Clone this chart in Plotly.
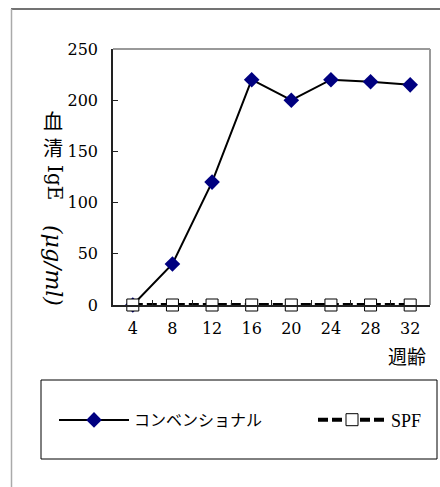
import plotly.graph_objects as go

weeks = ["4", "8", "12", "16", "20", "24", "28", "32"]
conventional = [0, 40, 120, 220, 200, 220, 218, 215]
spf = [0, 0, 0, 0, 0, 0, 0, 0]
y_ticks = [0, 50, 100, 150, 200, 250]

L, R, T, B = 113, 10, 49, 182
W, H = 440, 487
pw, ph = W - L - R, H - T - B

def px(x):
    return (x - L) / pw

def py(y):
    return (H - B - y) / ph

serif = "DejaVu Serif"
cjk = "Noto Sans CJK JP"

fig = go.Figure()
fig.add_trace(go.Scatter(
    x=weeks, y=conventional, name="コンベンショナル", mode="lines+markers",
    line=dict(color="black", width=2),
    marker=dict(symbol="diamond", size=12, color="#000080"),
    cliponaxis=False, legend="legend",
))
fig.add_trace(go.Scatter(
    x=weeks, y=spf, name="SPF", mode="lines+markers",
    line=dict(color="black", width=4, dash="10px,4px"),
    marker=dict(symbol="square", size=12, color="white", line=dict(color="black", width=1)),
    cliponaxis=False, legend="legend2",
))

def ann(text, x, y, font, angle=0, xa="center", ya="middle"):
    return dict(text=text, xref="paper", yref="paper", x=px(x), y=py(y),
                xanchor=xa, yanchor=ya, showarrow=False, textangle=angle, font=font)

fig.update_layout(
    width=W, height=H,
    margin=dict(l=L, r=R, t=T, b=B),
    paper_bgcolor="white", plot_bgcolor="white",
    showlegend=True,
    legend=dict(x=px(54), y=py(420), xanchor="left", yanchor="middle",
                font=dict(family=cjk, size=16, color="black"),
                itemwidth=70, bgcolor="rgba(0,0,0,0)"),
    legend2=dict(x=px(313), y=py(420), xanchor="left", yanchor="middle",
                 font=dict(family="Liberation Serif", size=18, color="black"),
                 itemwidth=68, bgcolor="rgba(0,0,0,0)"),
    xaxis=dict(type="category", range=[-0.5, 7.5], showgrid=False, zeroline=False,
               showline=True, linecolor="#222", linewidth=1.5,
               ticks="inside", ticklen=5, tickcolor="#222", tickson="boundaries",
               ticklabelstandoff=8,
               tickfont=dict(family=serif, size=16, color="black")),
    yaxis=dict(range=[0, 250], tickvals=y_ticks, showgrid=False, zeroline=False,
               showline=True, linecolor="#222", linewidth=1.5,
               ticks="inside", ticklen=5, tickcolor="#222",
               ticklabelstandoff=10,
               tickfont=dict(family=serif, size=16, color="black")),
    shapes=[
        dict(type="line", xref="paper", yref="paper", x0=0, x1=1, y0=1, y1=1,
             line=dict(color="#999", width=2)),
        dict(type="line", xref="paper", yref="paper", x0=1, x1=1, y0=0, y1=1,
             line=dict(color="#999", width=2)),
        dict(type="line", xref="paper", yref="paper", x0=px(11), x1=px(440), y0=py(9), y1=py(9),
             line=dict(color="#444", width=1.5)),
        dict(type="line", xref="paper", yref="paper", x0=px(11.5), x1=px(11.5), y0=py(9), y1=py(487),
             line=dict(color="#aaa", width=1.5)),
        dict(type="rect", xref="paper", yref="paper", x0=px(41), x1=px(437), y0=py(459), y1=py(380),
             line=dict(color="black", width=1)),
    ],
    annotations=[
        ann("血", 53, 120, dict(family=cjk, size=20, color="black")),
        ann("清", 53, 147, dict(family=cjk, size=20, color="black")),
        ann("IgE", 55, 182, dict(family=serif, size=20, color="black"), angle=90),
        ann("<i>(μg/ml)</i>", 54, 265, dict(family=serif, size=22, color="black"), angle=90),
        ann("週齢", 428, 355, dict(family=cjk, size=19, color="black"), xa="right"),
    ],
)

fig.write_html("out.html", post_script="document.body.style.margin='0';",
               config={"displayModeBar": False})
